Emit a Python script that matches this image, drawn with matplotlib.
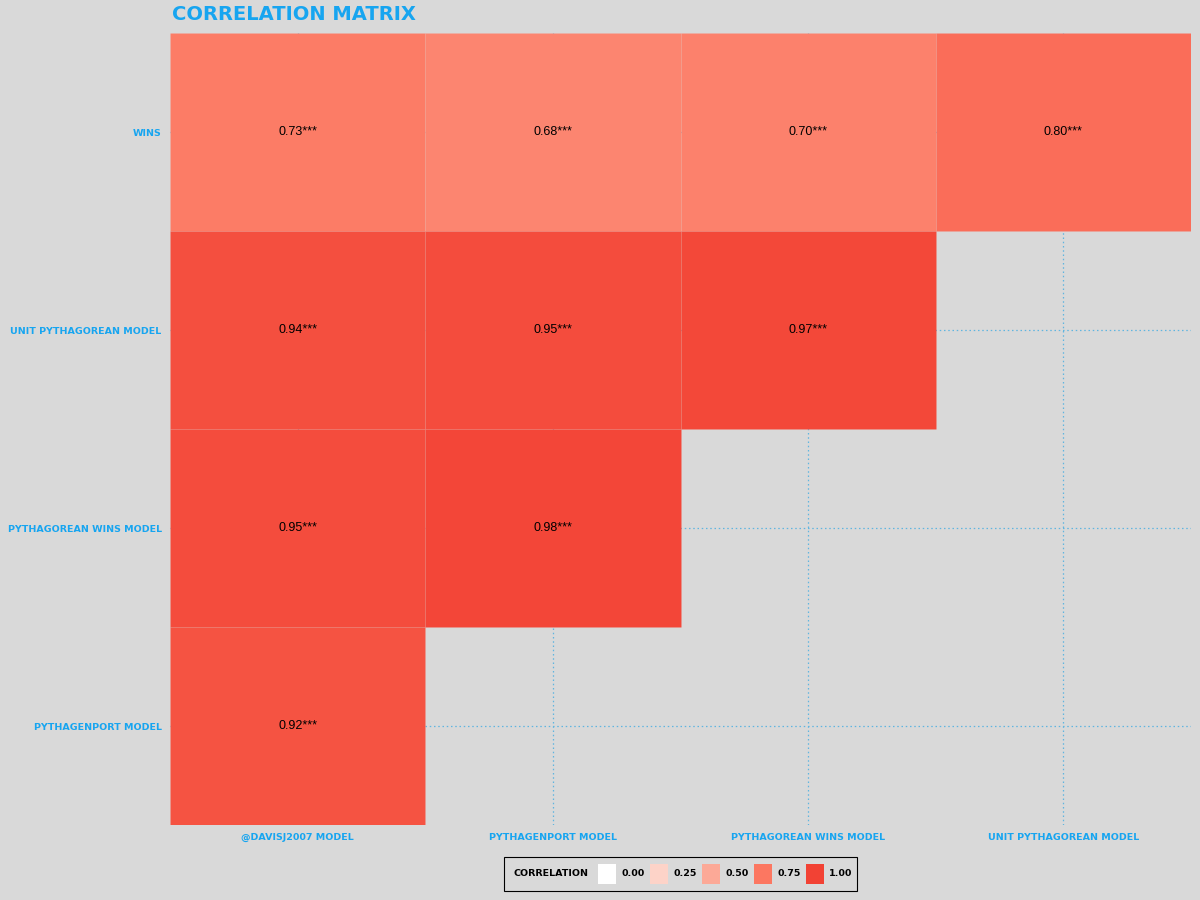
import numpy as np
import matplotlib
matplotlib.use("Agg")
import matplotlib.pyplot as plt
from matplotlib.colors import LinearSegmentedColormap
from matplotlib.patches import Rectangle

# data
x_labels = ["@davisj2007 Model", "PythagenPort Model", "Pythagorean Wins Model", "Unit Pythagorean Model"]
y_labels = ["Wins", "Unit Pythagorean Model", "Pythagorean Wins Model", "PythagenPort Model"]
wins = [0.73, 0.68, 0.70, 0.80]
unit_pyth = [0.94, 0.95, 0.97, np.nan]
pyth_wins = [0.95, 0.98, np.nan, np.nan]
pythagenport = [0.92, np.nan, np.nan, np.nan]
legend_breaks = [0.00, 0.25, 0.50, 0.75, 1.00]

vals = np.array([wins, unit_pyth, pyth_wins, pythagenport])

bg = "#d9d9d9"
blue = "#17a5f0"
cmap = LinearSegmentedColormap.from_list(
    "corr", [(0, "#ffffff"), (0.25, "#fdd3c8"), (0.5, "#fca997"),
             (0.75, "#fc7862"), (1.0, "#f24234")])

fig = plt.figure(figsize=(12, 9), dpi=100, facecolor=bg)
ax = fig.add_axes([170/1200, 1-825/900, (1191-170)/1200, (825-33)/900])
ax.set_facecolor(bg)

ax.set_xlim(-0.5, 3.5)
ax.set_ylim(3.5, -0.5)
ax.set_axisbelow(True)
for i in range(4):
    ax.axvline(i, color="#5fb5e0", lw=0.9, ls=(0, (1.2, 2.2)), zorder=0)
    ax.axhline(i, color="#5fb5e0", lw=0.9, ls=(0, (1.2, 2.2)), zorder=0)

for r in range(vals.shape[0]):
    for c in range(vals.shape[1]):
        v = vals[r, c]
        if np.isnan(v):
            continue
        ax.add_patch(Rectangle((c - 0.5, r - 0.5), 1, 1, facecolor=cmap(v),
                               edgecolor=(1, 1, 1, 0.04), lw=0.6, zorder=2))
        ax.text(c, r, f"{v:.2f}***", ha="center", va="center", fontsize=9,
                family="Liberation Sans", color="black", zorder=3)

for s in ax.spines.values():
    s.set_visible(False)
ax.set_xticks(range(4))
ax.set_yticks(range(4))
ax.set_xticklabels([l.upper() for l in x_labels])
ax.set_yticklabels([l.upper() for l in y_labels])
ax.tick_params(length=0, labelsize=6.8, labelcolor=blue, pad=6)
for t in ax.get_xticklabels() + ax.get_yticklabels():
    t.set_fontweight("bold")

fig.text(172/1200, 1-15/900, "CORRELATION MATRIX", fontsize=14, fontweight="bold",
         color=blue, ha="left", va="center")

# legend drawn by hand (title on the left like ggplot)
W, H = 1200, 900
fig.add_artist(Rectangle((504/W, 1-891/H), (857-504)/W, 34/H, transform=fig.transFigure,
                         facecolor=bg, edgecolor="black", lw=0.8))
fig.text(513/W, 1-874/H, "CORRELATION", fontsize=6.8, fontweight="bold", va="center")
x0 = 598
for b in legend_breaks:
    fig.add_artist(Rectangle((x0/W, 1-884/H), 18/W, 20/H, transform=fig.transFigure,
                             facecolor=cmap(b), edgecolor="none"))
    fig.text((x0+23)/W, 1-874/H, f"{b:.2f}", fontsize=6.8, fontweight="bold", va="center")
    x0 += 52

fig.savefig("out.png", dpi=100, facecolor=bg)
